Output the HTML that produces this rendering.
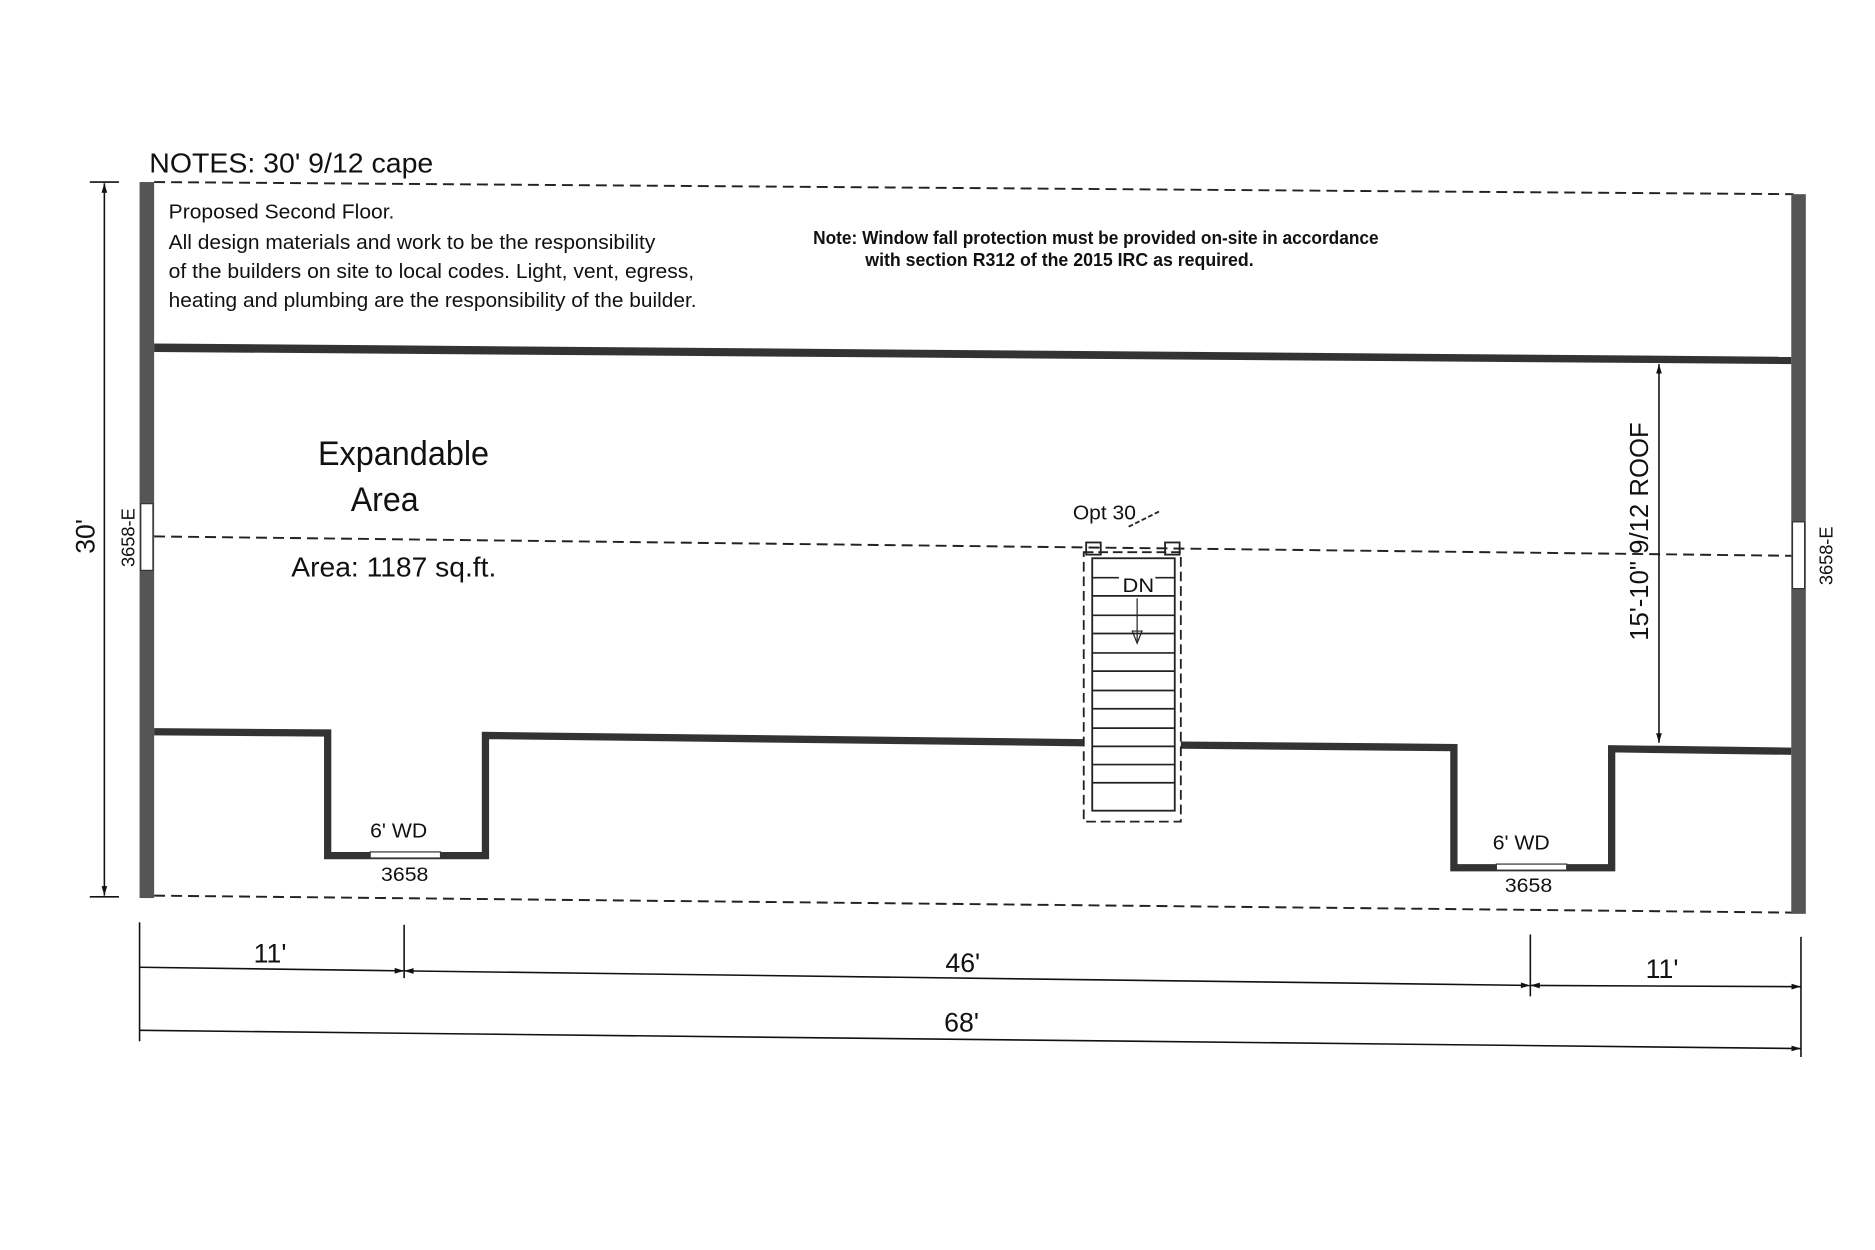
<!DOCTYPE html>
<html><head><meta charset="utf-8"><style>html,body{margin:0;padding:0;background:#fff}svg{display:block}text{font-family:"Liberation Sans",sans-serif;fill:#111}</style></head><body>
<svg width="1875" height="1250" viewBox="0 0 1545 1030" xmlns="http://www.w3.org/2000/svg">
<defs><marker id="a" viewBox="0 0 10 10" refX="10" refY="5" markerWidth="8" markerHeight="6" orient="auto-start-reverse"><path d="M0,2 L10,5 L0,8 Z" fill="#111"/></marker></defs>
<text x="123" y="142" font-size="23" textLength="234" lengthAdjust="spacingAndGlyphs">NOTES: 30'  9/12 cape</text>
<g stroke="#222" stroke-width="1.6" stroke-dasharray="9,5" fill="none">
<line x1="127" y1="150" x2="1478" y2="160"/>
<line x1="127" y1="442" x2="1478" y2="458"/>
<line x1="127" y1="738" x2="1478" y2="752"/>
</g>
<rect x="115" y="150" width="12" height="590" fill="#555"/>
<rect x="1476" y="160" width="12" height="593" fill="#555"/>
<rect x="116" y="415" width="10" height="55" fill="#fff" stroke="#333" stroke-width="1"/>
<rect x="1477" y="430" width="10" height="55" fill="#fff" stroke="#333" stroke-width="1"/>
<polygon points="127,283 1476,294 1476,300 127,290" fill="#333"/>
<g fill="none" stroke="#333" stroke-width="6" stroke-linejoin="miter">
<polyline points="127,603 270,604 270,705 400,705 400,606 893,612"/>
<polyline points="973,614 1198,616 1198,715 1328,715 1328,617 1476,619"/>
</g>
<rect x="305" y="702" width="58" height="5" fill="#fff" stroke="#333" stroke-width="1"/>
<rect x="1233" y="712" width="58" height="5" fill="#fff" stroke="#333" stroke-width="1"/>
<g stroke="#222" fill="none">
<rect x="900" y="460" width="68" height="208" stroke-width="1.5"/>
<rect x="893" y="455" width="80" height="222" stroke-width="1.5" stroke-dasharray="8,4"/>
<rect x="895" y="447" width="12" height="10" stroke-width="1.5"/>
<rect x="960" y="447" width="12" height="10" stroke-width="1.5"/>
<line x1="930" y1="434" x2="956" y2="421" stroke-dasharray="4,2" stroke-width="1.5"/>
<g stroke-width="1.4">
<line x1="900" y1="476" x2="968" y2="476"/><line x1="900" y1="491" x2="968" y2="491"/>
<line x1="900" y1="507" x2="968" y2="507"/><line x1="900" y1="522" x2="968" y2="522"/>
<line x1="900" y1="538" x2="968" y2="538"/><line x1="900" y1="553" x2="968" y2="553"/>
<line x1="900" y1="569" x2="968" y2="569"/><line x1="900" y1="584" x2="968" y2="584"/>
<line x1="900" y1="600" x2="968" y2="600"/><line x1="900" y1="615" x2="968" y2="615"/>
<line x1="900" y1="630" x2="968" y2="630"/><line x1="900" y1="645" x2="968" y2="645"/>
</g>
<line x1="937" y1="493" x2="937" y2="528" stroke-width="1"/>
<path d="M933,520 L941,520 L937,530 Z" stroke-width="1"/>
</g>
<rect x="922" y="475" width="30" height="14" fill="#fff"/>
<text x="925" y="488" font-size="16" textLength="26" lengthAdjust="spacingAndGlyphs">DN</text>
<text x="884" y="428" font-size="17" textLength="52" lengthAdjust="spacingAndGlyphs">Opt 30</text>
<g stroke="#111" stroke-width="1.3" fill="none">
<line x1="74" y1="150" x2="98" y2="150"/><line x1="74" y1="739" x2="98" y2="739"/>
<line x1="86" y1="151" x2="86" y2="738" marker-start="url(#a)" marker-end="url(#a)"/>
<line x1="1367" y1="300" x2="1367" y2="612" marker-start="url(#a)" marker-end="url(#a)"/>
<line x1="115" y1="760" x2="115" y2="858"/>
<line x1="333" y1="762" x2="333" y2="806"/>
<line x1="1261" y1="770" x2="1261" y2="821"/>
<line x1="1484" y1="772" x2="1484" y2="871"/>
<line x1="115" y1="797" x2="333" y2="800" marker-end="url(#a)"/>
<line x1="333" y1="800" x2="1261" y2="812" marker-start="url(#a)" marker-end="url(#a)"/>
<line x1="1261" y1="812" x2="1484" y2="813" marker-start="url(#a)" marker-end="url(#a)"/>
<line x1="115" y1="849" x2="1484" y2="864" marker-end="url(#a)"/>
</g>
<text x="209" y="793" font-size="22">11'</text>
<text x="779" y="801" font-size="22">46'</text>
<text x="1356" y="806" font-size="22">11'</text>
<text x="778" y="850" font-size="22">68'</text>
<text transform="translate(78,442) rotate(-90)" font-size="22" text-anchor="middle">30'</text>
<text transform="translate(111,443) rotate(-90)" font-size="15" text-anchor="middle">3658-E</text>
<text transform="translate(1510,458) rotate(-90)" font-size="15" text-anchor="middle">3658-E</text>
<text transform="translate(1358,438) rotate(-90)" font-size="21" text-anchor="middle" textLength="180" lengthAdjust="spacingAndGlyphs">15'-10"  9/12 ROOF</text>
<g font-size="17">
<text x="139" y="180" textLength="186" lengthAdjust="spacingAndGlyphs">Proposed Second Floor.</text>
<text x="139" y="205" textLength="401" lengthAdjust="spacingAndGlyphs">All design materials and work to be the responsibility</text>
<text x="139" y="229" textLength="433" lengthAdjust="spacingAndGlyphs">of the builders on site to local codes.  Light, vent, egress,</text>
<text x="139" y="253" textLength="435" lengthAdjust="spacingAndGlyphs">heating and plumbing are the responsibility of the builder.</text>
</g>
<text x="670" y="201" font-size="15" font-weight="bold" textLength="466" lengthAdjust="spacingAndGlyphs">Note: Window fall protection must be provided on-site in accordance</text>
<text x="713" y="219" font-size="15" font-weight="bold" textLength="320" lengthAdjust="spacingAndGlyphs">with section R312 of the 2015 IRC as required.</text>
<text x="262" y="383" font-size="28" textLength="141" lengthAdjust="spacingAndGlyphs">Expandable</text>
<text x="289" y="421" font-size="28" textLength="56" lengthAdjust="spacingAndGlyphs">Area</text>
<text x="240" y="475" font-size="23" textLength="169" lengthAdjust="spacingAndGlyphs">Area: 1187 sq.ft.</text>
<text x="305" y="690" font-size="17" textLength="47" lengthAdjust="spacingAndGlyphs">6' WD</text>
<text x="314" y="726" font-size="16" textLength="39" lengthAdjust="spacingAndGlyphs">3658</text>
<text x="1230" y="700" font-size="17" textLength="47" lengthAdjust="spacingAndGlyphs">6' WD</text>
<text x="1240" y="735" font-size="16" textLength="39" lengthAdjust="spacingAndGlyphs">3658</text>
</svg>
</body></html>
